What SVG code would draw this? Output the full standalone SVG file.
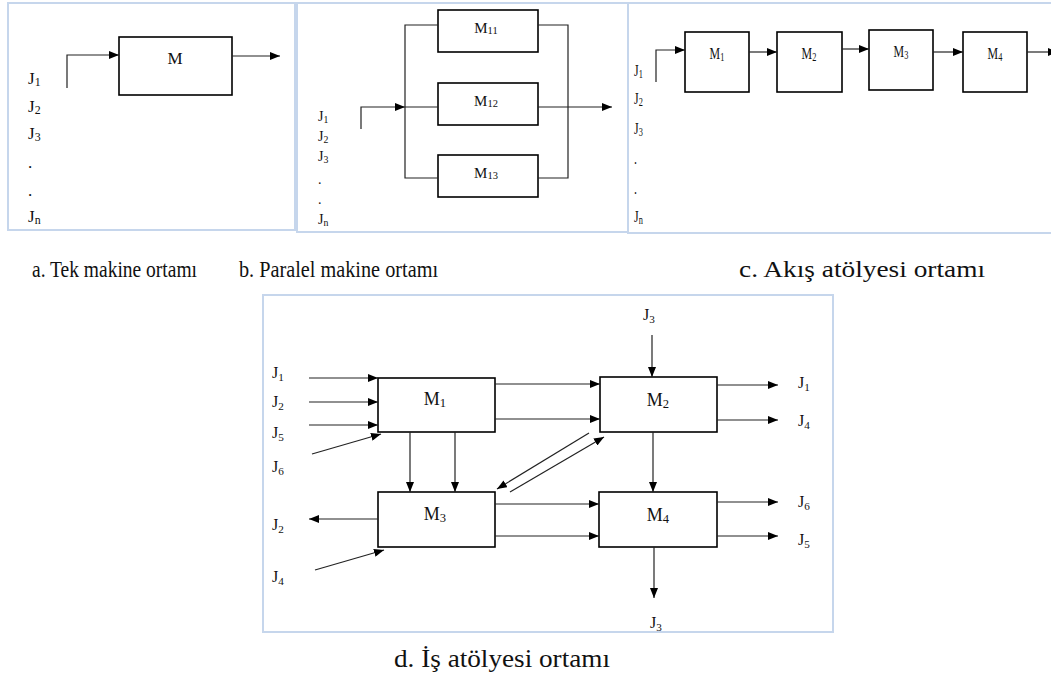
<svg xmlns="http://www.w3.org/2000/svg" width="1051" height="682" viewBox="0 0 1051 682">
<defs>
<marker id="ah" markerWidth="10" markerHeight="8" refX="10" refY="4" orient="auto" markerUnits="userSpaceOnUse"><path d="M0,0 L10,4 L0,8 z" fill="#000"/></marker>
<style>
.frame{fill:none;stroke:#c6d6ec;stroke-width:2}
.box{fill:#fff;stroke:#000;stroke-width:1.6}
.ln{fill:none;stroke:#222;stroke-width:1.2}
.ar{fill:none;stroke:#222;stroke-width:1.2;marker-end:url(#ah)}
.lb{font-size:17px}
.lbs{font-size:14px}
.lbd{font-size:16px}
.mt{font-size:17px;text-anchor:middle}
.md{font-size:18px;text-anchor:middle}
.cap{font-size:24px}
.sub{font-size:70%}
</style>
</defs>
<rect width="1051" height="682" fill="#fff"/>
<g font-family="Liberation Serif, DejaVu Serif, serif" fill="#111">

<!-- Panel a -->
<g id="panel-a">
<rect class="frame" x="8" y="3" width="287" height="227"/>
<g id="a-labels" class="lb">
<text x="28" y="84">J<tspan class="sub" dy="2">1</tspan></text>
<text x="28" y="112">J<tspan class="sub" dy="2">2</tspan></text>
<text x="28" y="139">J<tspan class="sub" dy="2">3</tspan></text>
<text x="28" y="168">.</text>
<text x="28" y="196">.</text>
<text x="28" y="222">J<tspan class="sub" dy="2">n</tspan></text>
</g>
<g id="a-M"><rect class="box" x="119" y="37" width="113" height="58"/><text class="mt" x="175" y="64">M</text></g>
</g>

<!-- Panel b -->
<g id="panel-b">
<rect class="frame" x="297" y="3" width="331" height="229"/>
<g id="b-labels" class="lbs">
<text x="318" y="121">J<tspan class="sub" dy="2">1</tspan></text>
<text x="318" y="141">J<tspan class="sub" dy="2">2</tspan></text>
<text x="318" y="161">J<tspan class="sub" dy="2">3</tspan></text>
<text x="318" y="184">.</text>
<text x="318" y="204">.</text>
<text x="318" y="224">J<tspan class="sub" dy="2">n</tspan></text>
</g>
<g id="b-M11"><rect class="box" x="438" y="10" width="100" height="42"/><text class="mt" x="486" y="33" style="font-size:15px">M<tspan class="sub" dy="1">11</tspan></text></g>
<g id="b-M12"><rect class="box" x="438" y="83" width="100" height="42"/><text class="mt" x="486" y="106" style="font-size:15px">M<tspan class="sub" dy="1">12</tspan></text></g>
<g id="b-M13"><rect class="box" x="438" y="155" width="100" height="42"/><text class="mt" x="486" y="178" style="font-size:15px">M<tspan class="sub" dy="1">13</tspan></text></g>
</g>

<!-- Panel c -->
<g id="panel-c">
<rect class="frame" x="628" y="3" width="430" height="230"/>
<g id="c-labels" class="lb">
<text transform="translate(634,76) scale(0.7,1)">J<tspan class="sub" dy="2">1</tspan></text>
<text transform="translate(634,104) scale(0.7,1)">J<tspan class="sub" dy="2">2</tspan></text>
<text transform="translate(634,134) scale(0.7,1)">J<tspan class="sub" dy="2">3</tspan></text>
<text transform="translate(634,164) scale(0.7,1)">.</text>
<text transform="translate(634,194) scale(0.7,1)">.</text>
<text transform="translate(634,222) scale(0.7,1)">J<tspan class="sub" dy="2">n</tspan></text>
</g>
<g id="c-M1"><rect class="box" x="685" y="32" width="64" height="60"/><text class="mt" transform="translate(717,59) scale(0.7,1)">M<tspan class="sub" dy="2">1</tspan></text></g>
<g id="c-M2"><rect class="box" x="777" y="32" width="65" height="60"/><text class="mt" transform="translate(809,59) scale(0.7,1)">M<tspan class="sub" dy="2">2</tspan></text></g>
<g id="c-M3"><rect class="box" x="869" y="30" width="64" height="60"/><text class="mt" transform="translate(901,57) scale(0.7,1)">M<tspan class="sub" dy="2">3</tspan></text></g>
<g id="c-M4"><rect class="box" x="963" y="32" width="64" height="60"/><text class="mt" transform="translate(995,59) scale(0.7,1)">M<tspan class="sub" dy="2">4</tspan></text></g>
</g>

<!-- Captions -->
<g id="captions" class="cap">
<text x="32" y="277" textLength="165" lengthAdjust="spacingAndGlyphs">a. Tek makine ortamı</text>
<text x="239" y="277" textLength="199" lengthAdjust="spacingAndGlyphs">b. Paralel makine ortamı</text>
<text x="739" y="277" textLength="246" lengthAdjust="spacingAndGlyphs">c. Akış atölyesi ortamı</text>
<text x="394" y="667" style="font-size:26px" textLength="216" lengthAdjust="spacingAndGlyphs">d. İş atölyesi ortamı</text>
</g>

<!-- Panel d -->
<g id="panel-d">
<rect class="frame" x="263" y="295" width="570" height="337"/>
<g id="d-labels" class="lbd">
<text x="272" y="378">J<tspan class="sub" dy="3">1</tspan></text>
<text x="272" y="407">J<tspan class="sub" dy="3">2</tspan></text>
<text x="272" y="438">J<tspan class="sub" dy="3">5</tspan></text>
<text x="272" y="472">J<tspan class="sub" dy="3">6</tspan></text>
<text x="272" y="530">J<tspan class="sub" dy="3">2</tspan></text>
<text x="272" y="582">J<tspan class="sub" dy="3">4</tspan></text>
<text x="643" y="320">J<tspan class="sub" dy="3">3</tspan></text>
<text x="650" y="628">J<tspan class="sub" dy="3">3</tspan></text>
<text x="798" y="388">J<tspan class="sub" dy="3">1</tspan></text>
<text x="798" y="426">J<tspan class="sub" dy="3">4</tspan></text>
<text x="798" y="507">J<tspan class="sub" dy="3">6</tspan></text>
<text x="798" y="545">J<tspan class="sub" dy="3">5</tspan></text>
</g>
<g id="d-M1"><rect class="box" x="378" y="378" width="117" height="54"/><text class="md" x="435" y="405">M<tspan class="sub" dy="2">1</tspan></text></g>
<g id="d-M2"><rect class="box" x="600" y="377" width="117" height="55"/><text class="md" x="658" y="406">M<tspan class="sub" dy="2">2</tspan></text></g>
<g id="d-M3"><rect class="box" x="378" y="492" width="117" height="55"/><text class="md" x="435" y="520">M<tspan class="sub" dy="2">3</tspan></text></g>
<g id="d-M4"><rect class="box" x="599" y="492" width="118" height="55"/><text class="md" x="658" y="521">M<tspan class="sub" dy="2">4</tspan></text></g>
</g>
</g>

<!-- Connectors -->
<g id="connectors">
<path class="ar" d="M67,88 V55 H119"/>
<line class="ar" x1="232" y1="56" x2="280" y2="56"/>
<path class="ar" d="M361,129 V107 H405"/>
<path class="ln" d="M438,25 H405 V178 H438 M405,107 H438"/>
<path class="ln" d="M538,25 H568 V178 H538"/>
<line class="ar" x1="538" y1="107" x2="612" y2="107"/>
<path class="ar" d="M656,82 V50 H685"/>
<line class="ar" x1="749" y1="52" x2="777" y2="52"/>
<line class="ar" x1="842" y1="49" x2="869" y2="49"/>
<line class="ar" x1="933" y1="52" x2="963" y2="52"/>
<line class="ar" x1="1027" y1="52" x2="1058" y2="52"/>
<line class="ar" x1="309" y1="378" x2="378" y2="378"/>
<line class="ar" x1="309" y1="402" x2="378" y2="402"/>
<line class="ar" x1="309" y1="425" x2="378" y2="425"/>
<line class="ar" x1="312" y1="454" x2="381" y2="434"/>
<line class="ar" x1="495" y1="384" x2="600" y2="384"/>
<line class="ar" x1="495" y1="419" x2="600" y2="419"/>
<line class="ar" x1="410" y1="432" x2="410" y2="492"/>
<line class="ar" x1="455" y1="432" x2="455" y2="492"/>
<line class="ar" x1="589" y1="433" x2="497" y2="489"/>
<line class="ar" x1="510" y1="492" x2="604" y2="437"/>
<line class="ar" x1="495" y1="504" x2="599" y2="504"/>
<line class="ar" x1="495" y1="536" x2="599" y2="536"/>
<line class="ar" x1="378" y1="519" x2="309" y2="519"/>
<line class="ar" x1="315" y1="570" x2="384" y2="550"/>
<line class="ar" x1="652" y1="335" x2="652" y2="377"/>
<line class="ar" x1="653" y1="432" x2="653" y2="492"/>
<line class="ar" x1="654" y1="547" x2="654" y2="598"/>
<line class="ar" x1="717" y1="385" x2="778" y2="385"/>
<line class="ar" x1="717" y1="420" x2="778" y2="420"/>
<line class="ar" x1="717" y1="502" x2="778" y2="502"/>
<line class="ar" x1="717" y1="536" x2="778" y2="536"/>
</g>
</svg>
